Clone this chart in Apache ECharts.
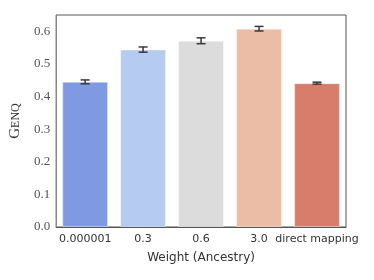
<!DOCTYPE html>
<html><head><meta charset="utf-8">
<script src="https://cdn.jsdelivr.net/npm/echarts@6/dist/echarts.min.js"></script>
<style>html,body{margin:0;padding:0;background:#fff}#c{width:374px;height:280px}</style>
</head><body><div id="c"></div>
<script>
var categories = ['0.000001', '0.3', '0.6', '3.0', 'direct mapping'];
var values = [0.445, 0.544, 0.571, 0.608, 0.441];
var errors = [0.006, 0.008, 0.009, 0.007, 0.003];
var colors = ['#7f9ae3', '#b5cbf2', '#dcdcdc', '#ebbca6', '#d87d6b'];
var yTicks = [0.0, 0.1, 0.2, 0.3, 0.4, 0.5, 0.6];

var chart = echarts.init(document.getElementById('c'));
chart.setOption({
  animation: false,
  grid: {left: 55, right: 28, top: 15, bottom: 53, show: true, borderColor: '#555', borderWidth: 1},
  xAxis: {
    type: 'category', data: categories,
    axisLine: {lineStyle: {color: '#555'}},
    axisTick: {show: false},
    axisLabel: {fontFamily: 'DejaVu Sans', fontSize: 11, color: '#333', margin: 7, interval: 0},
    name: 'Weight (Ancestry)', nameLocation: 'middle', nameGap: 25,
    nameTextStyle: {fontFamily: 'DejaVu Sans', fontSize: 12, color: '#333'}
  },
  yAxis: {
    type: 'value', min: 0, max: 0.65, interval: 0.1,
    splitLine: {show: false},
    axisLine: {show: true, lineStyle: {color: '#888'}},
    axisTick: {show: false},
    axisLabel: {fontFamily: 'Liberation Serif', fontSize: 13, color: '#555', margin: 6,
      formatter: function (v) { return yTicks.indexOf(Math.round(v*10)/10) >= 0 && v <= 0.6001 ? v.toFixed(1) : ''; }},
    name: '{a|G}{b|ENQ}', nameLocation: 'middle', nameGap: 26, nameRotate: 90,
    nameTextStyle: {
      rich: {
        a: {fontFamily: 'Liberation Serif', fontSize: 15, color: '#333'},
        b: {fontFamily: 'Liberation Serif', fontSize: 12, color: '#333'}
      }
    }
  },
  series: [{
    type: 'bar', barWidth: '79%',
    data: values.map(function (v, i) { return {value: v, itemStyle: {color: colors[i], borderColor: 'rgba(255,255,255,0.35)', borderWidth: 1}}; })
  }, {
    type: 'custom',
    data: values.map(function (v, i) { return [i, v - errors[i], v + errors[i]]; }),
    renderItem: function (params, api) {
      var lo = api.coord([api.value(0), api.value(1)]);
      var hi = api.coord([api.value(0), api.value(2)]);
      var x = lo[0], hw = 4.5;
      var st = {stroke: '#3a3a3a', lineWidth: 1.5};
      return {type: 'group', children: [
        {type: 'line', shape: {x1: x, y1: lo[1], x2: x, y2: hi[1]}, style: st},
        {type: 'line', shape: {x1: x - hw, y1: lo[1], x2: x + hw, y2: lo[1]}, style: st},
        {type: 'line', shape: {x1: x - hw, y1: hi[1], x2: x + hw, y2: hi[1]}, style: st}
      ]};
    },
    z: 5
  }]
});
</script></body></html>
